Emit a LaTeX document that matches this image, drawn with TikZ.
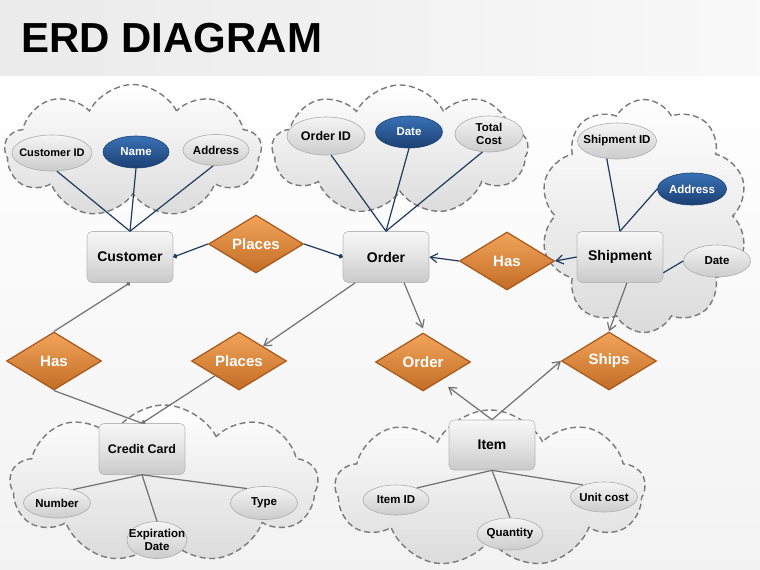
\documentclass[tikz,border=0pt]{standalone}
\usepackage{fontspec}
\setmainfont{Liberation Sans}
\usetikzlibrary{shapes.geometric,shapes.symbols,arrows.meta}
\definecolor{navy}{HTML}{1F3A5F}
\definecolor{lgray}{HTML}{707070}
\definecolor{cloudline}{HTML}{7A7A7A}
\definecolor{orfill}{HTML}{E5802C}
\definecolor{ortop}{HTML}{F2A45A}
\definecolor{orline}{HTML}{A9561A}
\definecolor{bluetop}{HTML}{3A72B5}
\definecolor{bluebot}{HTML}{1B3F73}
\tikzset{
  cloudbox/.style={cloud, cloud puffs=9, cloud puff arc=125, cloud ignores aspect,
    draw=cloudline, line width=1.4pt, dash pattern=on 6pt off 3.5pt,
    top color=white, bottom color=gray!28, inner sep=0pt},
  entity/.style={rectangle, rounded corners=5pt, draw=gray!55, line width=0.6pt,
    top color=gray!6, bottom color=gray!42, middle color=gray!22,
    minimum width=86pt, minimum height=51pt, font=\fontsize{14}{16}\selectfont\bfseries},
  attr/.style={ellipse, inner xsep=-9pt, inner ysep=-3pt, draw=gray!65, line width=0.6pt,
    top color=gray!8, bottom color=gray!40, align=center,
    font=\fontsize{11.5}{12.5}\selectfont\bfseries},
  keyattr/.style={ellipse, inner xsep=-9pt, inner ysep=-3pt, draw=bluebot, line width=0.6pt,
    top color=bluetop, bottom color=bluebot, text=white,
    font=\fontsize{11.5}{12.5}\selectfont\bfseries},
  rel/.style={diamond, aspect=1.64, inner sep=0pt, draw=orline, line width=1.2pt,
    top color=ortop, bottom color=orfill!85!black, text=white,
    minimum width=95pt, minimum height=58pt, font=\fontsize{15}{17}\selectfont\bfseries},
  navyline/.style={draw=navy, line width=1.2pt},
  grayline/.style={draw=lgray, line width=1.2pt},
  dotend/.style={-{Circle[length=4.5pt]}},
  barb/.style={-{Straight Barb[length=7pt,width=9pt,line width=1.2pt]}},
}
\begin{document}
\begin{tikzpicture}[x=1pt,y=-1pt]
\useasboundingbox (0,0) rectangle (760,570);
% background
\shade[top color=white, bottom color=gray!10] (0,75) rectangle (760,570);
\shade[left color=gray!16, right color=gray!5] (0,0) rectangle (760,75);
\node[anchor=base west, inner sep=0pt, font=\fontsize{42}{42}\selectfont\bfseries] (title) at (21,52) {ERD DIAGRAM};

% clouds
\node[cloudbox, minimum width=257pt, minimum height=133pt] (c1) at (133,151) {};
\node[cloudbox, minimum width=256pt, minimum height=130pt] (c2) at (400,150) {};
\node[cloudbox, minimum width=208pt, minimum height=233pt, cloud puffs=10] (c3) at (644,216) {};
\node[cloudbox, minimum width=308pt, minimum height=158pt] (c4) at (164,484) {};
\node[cloudbox, minimum width=310pt, minimum height=158pt] (c5) at (490,489) {};

% entities
\node[entity] (cust) at (130,257) {Customer};
\node[entity] (ord) at (386,257) {Order};
\node[entity] (ship) at (620,257) {Shipment};
\node[entity, font=\fontsize{12.5}{14}\selectfont\bfseries] (cc) at (142,449) {Credit Card};
\node[entity, minimum height=50pt] (item) at (492,445) {Item};

% attributes
\node[attr, minimum width=80pt, minimum height=36pt, font=\fontsize{11}{12}\selectfont\bfseries] (cid) at (52,153) {Customer ID};
\node[keyattr, minimum width=66pt, minimum height=32pt] (cname) at (136,152) {Name};
\node[attr, minimum width=66pt, minimum height=31pt] (caddr) at (216,150) {Address};

\node[attr, minimum width=78pt, minimum height=38pt, font=\fontsize{12.5}{13.5}\selectfont\bfseries] (oid) at (326,136) {Order ID};
\node[keyattr, minimum width=67pt, minimum height=32pt] (odate) at (409,132) {Date};
\node[attr, minimum width=68pt, minimum height=36pt] (ocost) at (489,134) {Total\\Cost};

\node[attr, minimum width=79pt, minimum height=36pt] (sid) at (617,141) {Shipment ID};
\node[keyattr, minimum width=69pt, minimum height=32pt] (saddr) at (692,189) {Address};
\node[attr, minimum width=67pt, minimum height=32pt] (sdate) at (717,261) {Date};

\node[attr, minimum width=67pt, minimum height=30pt] (num) at (57,503) {Number};
\node[attr, minimum width=60pt, minimum height=37pt] (exp) at (157,540) {Expiration\\Date};
\node[attr, minimum width=67pt, minimum height=33pt] (type) at (264,503) {Type};

\node[attr, minimum width=66pt, minimum height=30pt] (iid) at (396,500) {Item ID};
\node[attr, minimum width=66pt, minimum height=32pt] (qty) at (510,534) {Quantity};
\node[attr, minimum width=67pt, minimum height=30pt] (ucost) at (604,497) {Unit cost};

% relationships
\node[rel] (plc1) at (256,244) {Places};
\node[rel] (hasr) at (507,261) {Has};
\node[rel] (hasl) at (54,361) {Has};
\node[rel] (plc2) at (239,361) {Places};
\node[rel] (odia) at (423,362) {Order};
\node[rel] (ships) at (609,361) {Ships};

% attribute lines
\draw[navyline] (cid.-75) -- (cust.north);
\draw[navyline] (cname.south) -- (cust.north);
\draw[navyline] (caddr.-100) -- (cust.north);
\draw[navyline] (oid.-75) -- (ord.north);
\draw[navyline] (odate.south) -- (ord.north);
\draw[navyline] (ocost.-110) -- (ord.north);
\draw[navyline] (sid.-120) -- (ship.north);
\draw[navyline] (saddr.west) -- (ship.north);
\draw[navyline] (ship.-20) -- (sdate.west);
\draw[grayline] (cc.south) -- (num.40);
\draw[grayline] (cc.south) -- (exp.north);
\draw[grayline] (cc.south) -- (type.140);
\draw[grayline] (item.south) -- (iid.30);
\draw[grayline] (item.south) -- (qty.north);
\draw[grayline] (item.south) -- (ucost.150);

% relationship lines
\draw[navyline, dotend] (plc1.west) -- (cust.east);
\draw[navyline, dotend] (plc1.east) -- (ord.west);
\draw[navyline, barb] (hasr.west) -- (ord.east);
\draw[navyline, barb] (ship.west) -- (hasr.east);
\draw[grayline, {Circle[length=4pt]}-] (cust.south) -- (hasl.north);
\draw[grayline] (hasl.south) -- (cc.north);
\draw[grayline, -{Circle[length=4pt]}] (plc2.south west) -- (cc.north);
\draw[grayline, barb] (ord.-140) -- (plc2.north east);
\draw[grayline, barb] (ord.-55) -- ([yshift=4pt]odia.north);
\draw[grayline, barb] (ship.-75) -- (ships.north);
\draw[grayline, barb] (item.north) -- ([shift={(1pt,-10pt)}]odia.south east);
\draw[grayline, barb] (item.north) -- (ships.west);
\end{tikzpicture}
\end{document}
